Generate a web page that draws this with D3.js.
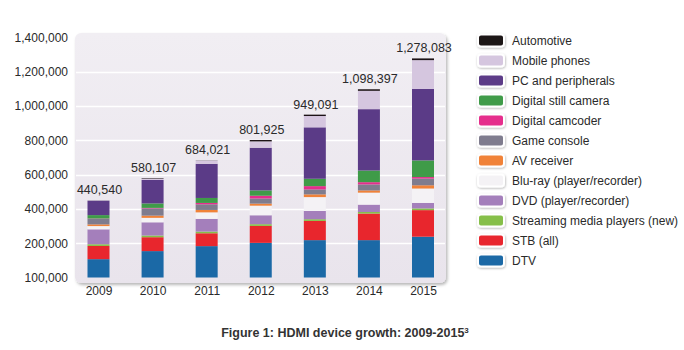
<!DOCTYPE html>
<html>
<head>
<meta charset="utf-8">
<script src="https://cdn.jsdelivr.net/npm/d3@7"></script>
<style>
  body { margin: 0; background: #ffffff; }
  svg { display: block; font-family: "Liberation Sans", Arial, Helvetica, sans-serif; }
</style>
</head>
<body>
<svg id="chart" width="684" height="350"></svg>
<script>
// ---- Data (values in units, stacked bottom-up) ----
const years = ["2009", "2010", "2011", "2012", "2013", "2014", "2015"];
const totalLabels = ["440,540", "580,107", "684,021", "801,925", "949,091", "1,098,397", "1,278,083"];

const seriesNames = [
  "DTV", "STB (all)", "Streaming media players (new)", "DVD (player/recorder)",
  "Blu-ray (player/recorder)", "AV receiver", "Game console", "Digital camcoder",
  "Digital still camera", "PC and peripherals", "Mobile phones", "Automotive"
];
const seriesColors = [
  "#1b69a6", "#e8262d", "#86bf48", "#a47fbb",
  "#f4f2f5", "#f08238", "#7f7c8e", "#e52d8c",
  "#3f9b48", "#5b3b87", "#d5c6df", "#1c1216"
];

const dtv       = [107000, 154000, 183000, 202000, 218000, 218000, 238000];
const stb       = [ 77000,  81000,  75000,  99000, 112000, 155000, 155000];
const streaming = [ 10000,  10000,  10000,  10000,  10000,   9000,  10000];
const dvd       = [ 87000,  77000,  74000,  52000,  48000,  43000,  32000];
const bluray    = [ 19000,  26000,  38000,  56000,  81000,  70000,  84000];
const avr       = [ 10000,  13000,  14000,  12000,  16000,  13000,  19000];
const game      = [ 32000,  42000,  33000,  30000,  29000,  35000,  39000];
const camcoder  = [  2000,   3000,   8000,  16000,  19000,  13000,   9000];
const stillcam  = [ 20000,  26000,  29000,  31000,  43000,  68000,  97000];
const pc        = [ 84000, 137000, 199000, 249000, 300000, 358000, 417000];
const mobile    = [  1000,   8000,  19000,  37000,  66000, 107000, 168000];
const automotive= [   500,   3000,   1000,   8000,   8000,   9000,  10000];

const seriesValues = [dtv, stb, streaming, dvd, bluray, avr, game, camcoder, stillcam, pc, mobile, automotive];

const tickValues = [0, 200000, 400000, 600000, 800000, 1000000, 1200000, 1400000];
const tickLabels = ["100,000", "200,000", "400,000", "600,000", "800,000", "1,000,000", "1,200,000", "1,400,000"];

const caption = "Figure 1: HDMI device growth: 2009-2015";

// ---- Build table ----
const table = years.map((yr, i) => {
  const row = { year: yr };
  seriesNames.forEach((s, j) => { row[s] = seriesValues[j][i]; });
  return row;
});
const stacked = d3.stack().keys(seriesNames)(table);

const svg = d3.select("#chart");
const defs = svg.append("defs");

const grad = defs.append("linearGradient").attr("id", "panelGrad")
  .attr("x1", 0).attr("y1", 0).attr("x2", 0).attr("y2", 1);
grad.append("stop").attr("offset", "0%").attr("stop-color", "#f1eef3");
grad.append("stop").attr("offset", "100%").attr("stop-color", "#e9e4ec");

const shadow = defs.append("filter").attr("id", "shadow")
  .attr("x", "-10%").attr("y", "-10%").attr("width", "130%").attr("height", "130%");
shadow.append("feDropShadow").attr("dx", 1.5).attr("dy", 2).attr("stdDeviation", 1.8)
  .attr("flood-color", "#000").attr("flood-opacity", 0.28);

const swShadow = defs.append("filter").attr("id", "swShadow")
  .attr("x", "-30%").attr("y", "-50%").attr("width", "160%").attr("height", "200%");
swShadow.append("feDropShadow").attr("dx", 0.5).attr("dy", 1).attr("stdDeviation", 1)
  .attr("flood-color", "#000").attr("flood-opacity", 0.3);

// ---- Scales ----
const x = d3.scalePoint().domain(years).range([98.5, 423]);
const barW = 22;
const y = d3.scaleLinear().domain([0, 1400000]).range([277.5, 37.5]);

// Panel
svg.append("rect")
  .attr("x", 75).attr("y", 33).attr("width", 371).attr("height", 250)
  .attr("rx", 6).attr("ry", 6)
  .attr("fill", "url(#panelGrad)")
  .attr("filter", "url(#shadow)");

// Gridlines
svg.append("g").selectAll("line")
  .data(tickValues.filter(v => v > 0 && v < 1400000))
  .join("line")
  .attr("x1", 76).attr("x2", 445)
  .attr("y1", d => Math.round(y(d)) + 0.5).attr("y2", d => Math.round(y(d)) + 0.5)
  .attr("stroke", "#ffffff").attr("stroke-width", 1.3);

// Y axis (labels only)
const yAxis = d3.axisLeft(y).tickValues(tickValues)
  .tickFormat((d, i) => tickLabels[i]).tickSize(0).tickPadding(0);
const gy = svg.append("g").attr("transform", "translate(68,0)").call(yAxis);
gy.select(".domain").remove();
gy.selectAll("text").attr("font-size", 12).attr("fill", "#2a2a2a")
  .attr("font-family", "'Liberation Sans', Arial, sans-serif");

// X axis
const xAxis = d3.axisBottom(x).tickSize(0).tickPadding(0);
const gx = svg.append("g").attr("transform", "translate(0,286)").call(xAxis);
gx.select(".domain").remove();
gx.selectAll("text").attr("font-size", 12).attr("fill", "#2a2a2a")
  .attr("font-family", "'Liberation Sans', Arial, sans-serif");

// Bars
svg.append("g").selectAll("g")
  .data(stacked)
  .join("g")
  .attr("fill", (d, i) => seriesColors[i])
  .selectAll("rect")
  .data(d => d)
  .join("rect")
  .attr("x", d => x(d.data.year) - barW / 2)
  .attr("width", barW)
  .attr("y", d => y(d[1]))
  .attr("height", d => Math.max(0, y(d[0]) - y(d[1])));

// Total labels
const topLayer = stacked[stacked.length - 1];
svg.append("g").selectAll("text")
  .data(topLayer)
  .join("text")
  .attr("x", d => x(d.data.year) + 1)
  .attr("y", d => y(d[1]) - 6)
  .attr("text-anchor", "middle")
  .attr("font-size", 12.5)
  .attr("fill", "#2a2a2a")
  .text((d, i) => totalLabels[i]);

// Legend (top = Automotive)
const legendOrder = seriesNames.map((s, i) => ({ name: s, color: seriesColors[i] })).reverse();
const lg = svg.append("g").selectAll("g")
  .data(legendOrder)
  .join("g")
  .attr("transform", (d, i) => `translate(478,${40.5 + i * 20})`);
lg.append("rect")
  .attr("x", 0).attr("y", -6).attr("width", 26).attr("height", 12)
  .attr("rx", 3).attr("ry", 3)
  .attr("fill", d => d.color)
  .attr("stroke", "#ffffff").attr("stroke-width", 2)
  .attr("filter", "url(#swShadow)");
lg.append("text")
  .attr("x", 34).attr("y", 4.3)
  .attr("font-size", 12)
  .attr("fill", "#2a2a2a")
  .text(d => d.name);

// Caption
const cap = svg.append("text")
  .attr("x", 345).attr("y", 337)
  .attr("text-anchor", "middle")
  .attr("font-size", 12.5).attr("font-weight", "bold")
  .attr("fill", "#333333");
cap.append("tspan").text(caption);
cap.append("tspan").attr("font-size", 8).attr("dy", -4.5).text("3");
</script>
</body>
</html>
